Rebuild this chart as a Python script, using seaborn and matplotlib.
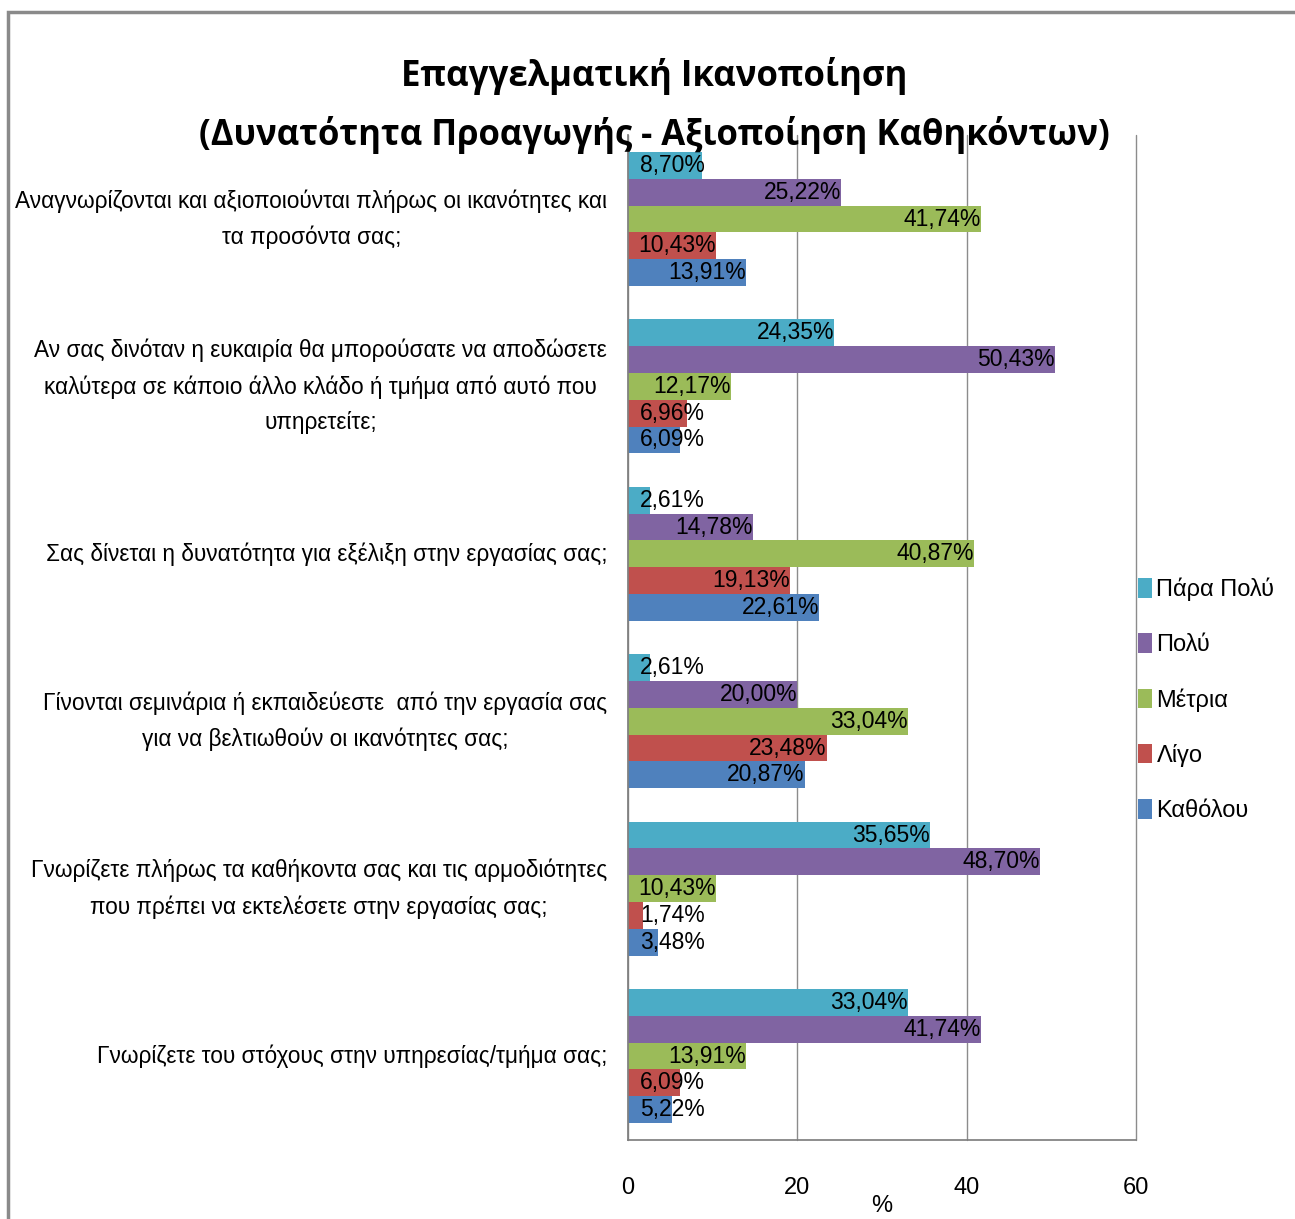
import matplotlib
matplotlib.use("Agg")
import matplotlib.pyplot as plt
import seaborn as sns
import pandas as pd
from matplotlib.patches import Rectangle, Patch

categories = [
    "Αναγνωρίζονται και αξιοποιούνται πλήρως οι ικανότητες και\nτα προσόντα σας;",
    "Αν σας δινόταν η ευκαιρία θα μπορούσατε να αποδώσετε\nκαλύτερα σε κάποιο άλλο κλάδο ή τμήμα από αυτό που\nυπηρετείτε;",
    "Σας δίνεται η δυνατότητα για εξέλιξη στην εργασίας σας;",
    "Γίνονται σεμινάρια ή εκπαιδεύεστε  από την εργασία σας\nγια να βελτιωθούν οι ικανότητες σας;",
    "Γνωρίζετε πλήρως τα καθήκοντα σας και τις αρμοδιότητες\nπου πρέπει να εκτελέσετε στην εργασίας σας;",
    "Γνωρίζετε του στόχους στην υπηρεσίας/τμήμα σας;",
]
series = ["Πάρα Πολύ", "Πολύ", "Μέτρια", "Λίγο", "Καθόλου"]
para_poly = [8.70, 24.35, 2.61, 2.61, 35.65, 33.04]
poly = [25.22, 50.43, 14.78, 20.00, 48.70, 41.74]
metria = [41.74, 12.17, 40.87, 33.04, 10.43, 13.91]
ligo = [10.43, 6.96, 19.13, 23.48, 1.74, 6.09]
katholou = [13.91, 6.09, 22.61, 20.87, 3.48, 5.22]
colors = ["#4BACC6", "#8064A2", "#9BBB59", "#C0504D", "#4F81BD"]
xticks = [0, 20, 40, 60]

values = [para_poly, poly, metria, ligo, katholou]
rows = []
for s, vals in zip(series, values):
    for c, v in zip(categories, vals):
        rows.append({"cat": c, "series": s, "val": v})
df = pd.DataFrame(rows)

sns.set_theme(style="white")
FONT = ["Liberation Sans", "DejaVu Sans"]
plt.rcParams["font.family"] = FONT
plt.rcParams["text.color"] = "black"
plt.rcParams["xtick.color"] = "black"
plt.rcParams["ytick.color"] = "black"
plt.rcParams["axes.labelcolor"] = "black"

fig = plt.figure(figsize=(12.95, 12.19), dpi=100)
ax = fig.add_axes([0.485, 0.065, 0.392, 0.824])

sns.barplot(data=df, x="val", y="cat", hue="series", order=categories,
            hue_order=series, palette=colors, orient="h", width=0.8,
            saturation=1, ax=ax, legend=False, edgecolor="none")

ax.set_xlim(0, 60)
ax.set_xticks(xticks)
ax.set_xticklabels([str(t) for t in xticks], fontsize=17)
ax.tick_params(axis="x", direction="out", length=9, width=1, color="#808080", pad=18)
ax.tick_params(axis="y", length=0, pad=15)
for lab in ax.get_yticklabels():
    lab.set_fontsize(16.3)
    lab.set_multialignment("center")
    lab.set_linespacing(1.7)
    lab.set_verticalalignment("center")
ax.grid(axis="x", color="#8c8c8c", linewidth=1)
for gl in ax.get_xgridlines():
    gl.set_clip_on(False)
ax.set_axisbelow(True)
for sp in ["top", "right"]:
    ax.spines[sp].set_visible(False)
ax.spines["left"].set_color("#808080")
ax.spines["bottom"].set_color("#808080")
ax.set_ylabel("")
ax.set_xlabel("%", fontsize=17)
ax.xaxis.set_label_coords(0.5, -0.055)

# data labels
for container, vals in zip(ax.containers, values):
    for bar, v in zip(container, vals):
        yc = bar.get_y() + bar.get_height() / 2
        xr = max(v, 9.1)
        ax.text(xr, yc, f"{v:.2f}".replace(".", ",") + "%", ha="right",
                va="center", fontsize=16.5, color="black")

handles = [Patch(facecolor=c, edgecolor="none") for c in colors]
leg = fig.legend(handles, series, loc="center left", bbox_to_anchor=(0.862, 0.426),
                 frameon=False, fontsize=17, labelspacing=1.36, handlelength=0.6,
                 handleheight=0.9, handletextpad=0.2)

fig.text(0.505, 0.938, "Επαγγελματική Ικανοποίηση", ha="center", va="center",
         fontsize=25, fontweight="bold", family=["Open Sans", "DejaVu Sans"])
fig.text(0.505, 0.889, "(Δυνατότητα Προαγωγής - Αξιοποίηση Καθηκόντων)", ha="center",
         va="center", fontsize=25, fontweight="bold", family=["Open Sans", "DejaVu Sans"])

frame = Rectangle((8 / 1295, -0.01), 1.1, 1 - 12 / 1219 + 0.01, transform=fig.transFigure,
                  fill=False, edgecolor="#8a8a8a", linewidth=2.5, zorder=-1)
fig.patches.append(frame)

fig.savefig("out.png", dpi=100)
